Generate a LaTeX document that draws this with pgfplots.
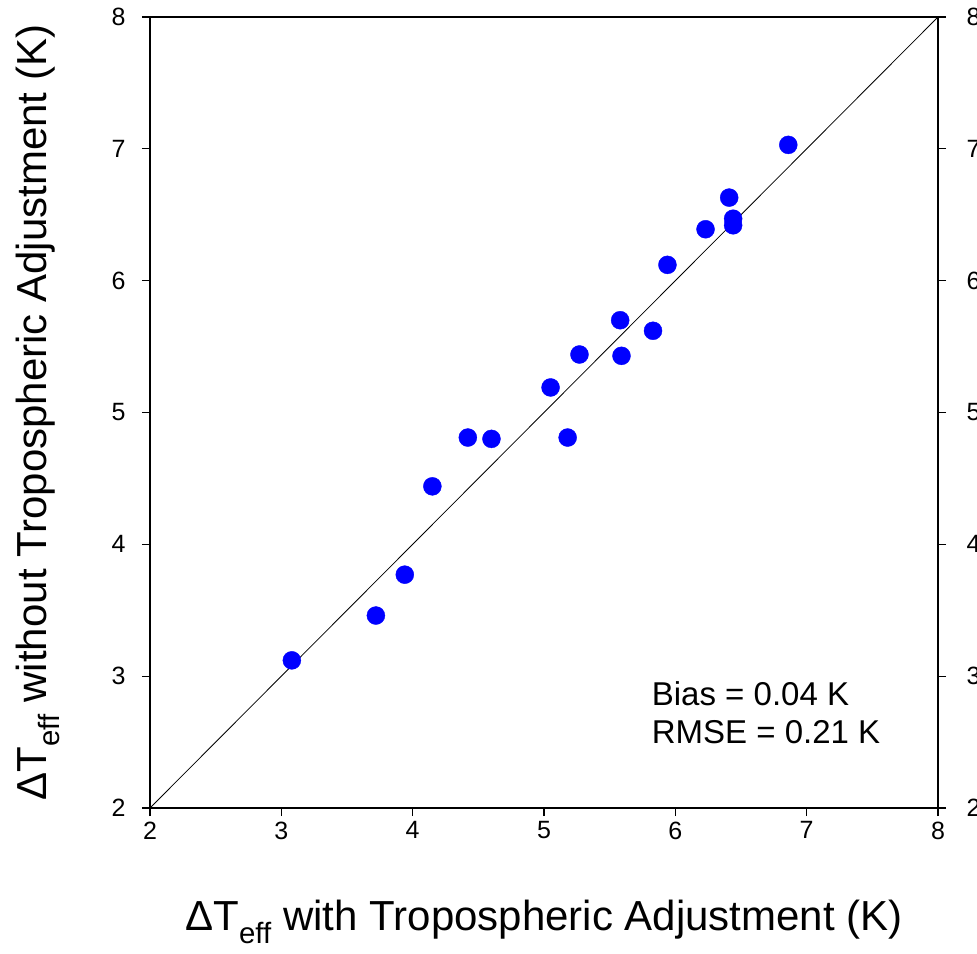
\documentclass[border=0pt]{standalone}
\usepackage{pgfplots}
\pgfplotsset{compat=1.18}
\usepackage{fontspec}
\setmainfont{Liberation Sans}
\begin{document}
\begin{tikzpicture}
\begin{axis}[
  name=ax,
  scale only axis,
  width=788pt, height=791pt,
  xmin=2, xmax=8, ymin=2, ymax=8,
  xtick={2,3,4,5,6,7,8}, ytick={2,3,4,5,6,7,8},
  tick align=outside,
  xtick pos=bottom, ytick pos=left,
  major tick length=8pt,
  axis line style={line width=1.3pt},
  every tick/.style={line width=1.3pt, black},
  /pgf/number format/assume math mode=true,
  ticklabel style={font=\fontsize{25}{29}\selectfont},
  xticklabel style={yshift=-2pt},
  yticklabel style={xshift=-13pt},
  xlabel={ΔT\textsubscript{eff} with Tropospheric Adjustment (K)},
  ylabel={ΔT\textsubscript{eff} without Tropospheric Adjustment (K)},
  label style={font=\fontsize{42}{47}\selectfont},
  xlabel style={at={(axis description cs:0.5,-0.144)}, anchor=center},
  ylabel style={at={(axis description cs:-0.142,0.5)}, anchor=center},
  clip=false,
]
\addplot[black, line width=0.8pt] coordinates {(2,2) (8,8)};
\addplot[only marks, mark=*, mark size=9pt, color={rgb,255:red,0;green,0;blue,255}, mark options={draw=none, fill={rgb,255:red,0;green,0;blue,255}}] coordinates {
(3.08,3.12) (3.72,3.46) (3.94,3.77) (4.15,4.44) (4.42,4.81) (4.60,4.80)
(5.05,5.19) (5.18,4.81) (5.27,5.44) (5.58,5.70) (5.59,5.43) (5.83,5.62)
(5.94,6.12) (6.23,6.39) (6.41,6.63) (6.44,6.47) (6.44,6.42) (6.86,7.03)
};
\node[anchor=base west, inner sep=0pt, font=\fontsize{33}{37}\selectfont] at (axis cs:5.82,2.78) {Bias = 0.04 K};
\node[anchor=base west, inner sep=0pt, font=\fontsize{33}{37}\selectfont] at (axis cs:5.82,2.49) {RMSE = 0.21 K};
\end{axis}
\begin{axis}[
  scale only axis,
  width=788pt, height=791pt,
  xmin=2, xmax=8, ymin=2, ymax=8,
  axis x line=none,
  axis y line*=right,
  ytick={2,3,4,5,6,7,8},
  tick align=outside,
  major tick length=8pt,
  axis line style={line width=1.3pt},
  every tick/.style={line width=1.3pt, black},
  /pgf/number format/assume math mode=true,
  ticklabel style={font=\fontsize{25}{29}\selectfont},
  yticklabel style={xshift=17pt},
]
\addplot[draw=none] coordinates {(2,2)};
\end{axis}
\pgfresetboundingbox
\path[use as bounding box] ([xshift=-150pt,yshift=-145pt]ax.south west) rectangle ([xshift=39pt,yshift=17pt]ax.north east);
\end{tikzpicture}
\end{document}
